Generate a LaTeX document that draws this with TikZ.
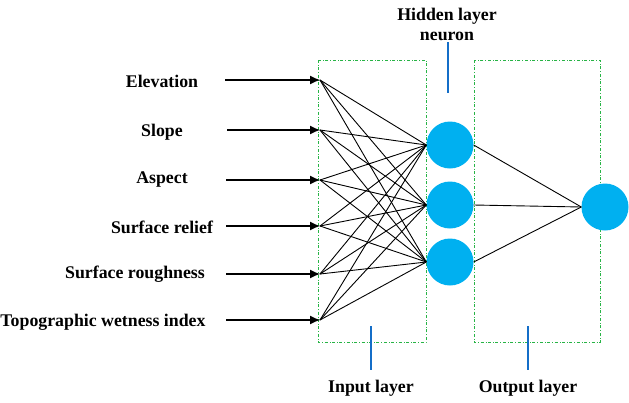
\documentclass[tikz,border=0pt]{standalone}
\usepackage{fontspec}
\setmainfont{Liberation Serif}
\usetikzlibrary{arrows.meta}
\definecolor{neuc}{RGB}{0,176,240}
\definecolor{boxc}{RGB}{40,180,70}
\definecolor{tickc}{RGB}{20,110,200}
\begin{document}
\begin{tikzpicture}[x=1pt,y=-1pt,
 lbl/.style={font=\fontsize{17.8}{20}\selectfont\bfseries,inner sep=0pt},
 neu/.style={circle,fill=neuc,draw=none,minimum size=47pt,inner sep=0pt},
 box/.style={draw=boxc,dash dot,line width=1pt},
 tick/.style={draw=tickc,line width=1.5pt},
 arr/.style={-{Latex[length=10pt,width=9pt]},line width=1.1pt},
 w/.style={line width=0.9pt}]
\useasboundingbox (0,0) rectangle (629,402);
\draw[box] (318,60) rectangle (426,342);
\draw[box] (474,60) rectangle (600,342);
\node[lbl] (t1) at (162,81) {Elevation};
\node[lbl] (t2) at (162,132) {Slope};
\node[lbl] (t3) at (162,180) {Aspect};
\node[lbl] (t4) at (162,227) {Surface relief};
\node[lbl] (t5) at (135,274) {Surface roughness};
\node[lbl] (t6) at (103,322) {Topographic wetness index};
\foreach \i/\y/\s in {1/80/225,2/130/227,3/180/226,4/226/226,5/274/226,6/320/226}{
 \coordinate (s\i) at (\s,\y);
 \coordinate (i\i) at (320,\y);
 \draw[arr] (s\i) -- (i\i);
}
\node[neu] (h1) at (450,145) {};
\node[neu] (h2) at (450,205) {};
\node[neu] (h3) at (450,262) {};
\node[neu] (o) at (605,207) {};
\foreach \i in {1,...,6}{\foreach \h in {1,2,3}{\draw[w] (i\i) -- (h\h.west);}}
\foreach \h in {1,2,3}{\draw[w] (h\h.east) -- (o.west);}
\node[lbl,align=center] (hl) at (447,24) {Hidden layer\\neuron};
\coordinate (ha) at (448,42); \coordinate (hb) at (448,93);
\draw[tick] (ha) -- (hb);
\coordinate (ia) at (371,326); \coordinate (ib) at (371,370);
\draw[tick] (ia) -- (ib);
\coordinate (oa) at (528,326); \coordinate (ob) at (528,370);
\draw[tick] (oa) -- (ob);
\node[lbl] (il) at (371,388) {Input layer};
\node[lbl] (ol) at (528,388) {Output layer};
\end{tikzpicture}
\end{document}
